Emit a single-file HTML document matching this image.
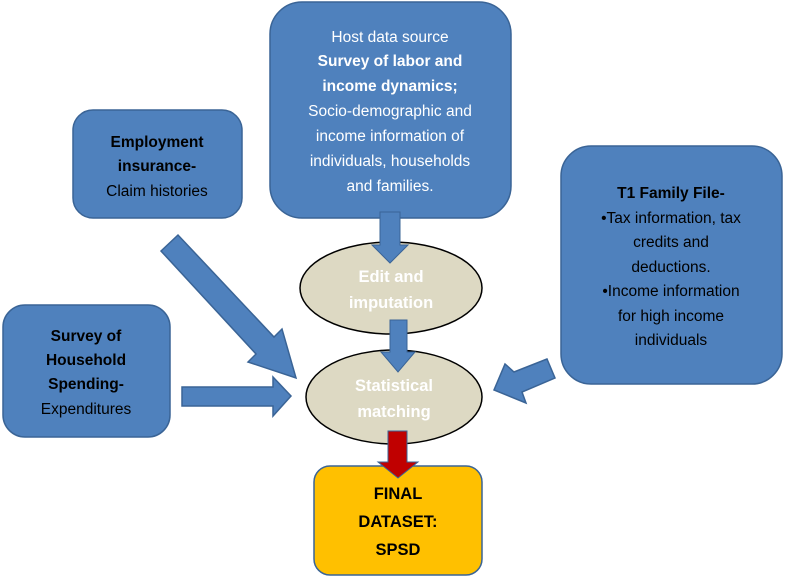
<!DOCTYPE html>
<html><head><meta charset="utf-8"><style>
html,body{margin:0;padding:0;background:#fff;width:790px;height:581px;overflow:hidden}
svg text{font-family:"Liberation Sans",sans-serif;font-size:15.5px}
</style></head><body>
<svg width="790" height="581" viewBox="0 0 790 581" xmlns="http://www.w3.org/2000/svg">
<g fill="#4f81bd" stroke="#3a6496" stroke-width="1.5">
<rect x="73" y="110" width="169" height="108" rx="20"/>
<rect x="3" y="305" width="167" height="132" rx="22"/>
<rect x="270" y="2" width="241" height="216" rx="32"/>
<rect x="561" y="146" width="221" height="238" rx="30"/>
<polygon points="161,251 178,235 274,337 282,329 296,378 248,362 256,354"/>
<polygon points="182,387 273,387 273,377 291,396 273,416 273,406 182,406"/>
<polygon points="547,359 555,378 522,392 526,403 494,390 505,364 514,372"/>
</g>
<ellipse cx="391" cy="288" rx="91" ry="46" fill="#ddd9c3" stroke="#000" stroke-width="1.5"/>
<polygon points="380,212 400,212 400,245 408,245 390,263 372,245 380,245" fill="#4f81bd" stroke="#3a6496"/>
<ellipse cx="394" cy="397" rx="88" ry="47" fill="#ddd9c3" stroke="#000" stroke-width="1.5"/>
<polygon points="390,320 407,320 407,352 415,352 398,372 381,352 390,352" fill="#4f81bd" stroke="#3a6496"/>
<rect x="314" y="466" width="168" height="109" rx="16" fill="#ffc000" stroke="#3a6496" stroke-width="1.5"/>
<polygon points="388,431 407,431 407,462 418,462 398,478 378,462 388,462" fill="#c00000" stroke="#3a6496"/>
<g fill="#fff" text-anchor="middle">
<text x="391" y="282" style="font-size:16.5px;font-weight:bold">Edit and</text>
<text x="391" y="308" style="font-size:16.5px;font-weight:bold">imputation</text>
<text x="394" y="391" style="font-size:16.5px;font-weight:bold">Statistical</text>
<text x="394" y="417" style="font-size:16.5px;font-weight:bold">matching</text>
</g>
<g fill="#000" text-anchor="middle">
<text x="398" y="499" style="font-weight:bold;font-size:16.5px">FINAL</text>
<text x="398" y="527" style="font-weight:bold;font-size:16.5px">DATASET:</text>
<text x="398" y="555" style="font-weight:bold;font-size:16.5px">SPSD</text>
<text x="157" y="147" style="font-weight:bold">Employment</text>
<text x="157" y="171" style="font-weight:bold">insurance-</text>
<text x="157" y="196">Claim histories</text>
<text x="86" y="341" style="font-weight:bold">Survey of</text>
<text x="86" y="365" style="font-weight:bold">Household</text>
<text x="86" y="389" style="font-weight:bold">Spending-</text>
<text x="86" y="414">Expenditures</text>
<text x="671" y="198" style="font-weight:bold">T1 Family File-</text>
<text x="671" y="223">•Tax information, tax</text>
<text x="671" y="247">credits and</text>
<text x="671" y="272">deductions.</text>
<text x="671" y="296">•Income information</text>
<text x="671" y="321">for high income</text>
<text x="671" y="345">individuals</text>
</g>
<g fill="#fff" text-anchor="middle">
<text x="390" y="42">Host data source</text>
<text x="390" y="66" style="font-weight:bold">Survey of labor and</text>
<text x="390" y="91" style="font-weight:bold">income dynamics;</text>
<text x="390" y="116">Socio-demographic and</text>
<text x="390" y="141">income information of</text>
<text x="390" y="166">individuals, households</text>
<text x="390" y="191">and families.</text>
</g>
</svg>
</body></html>
